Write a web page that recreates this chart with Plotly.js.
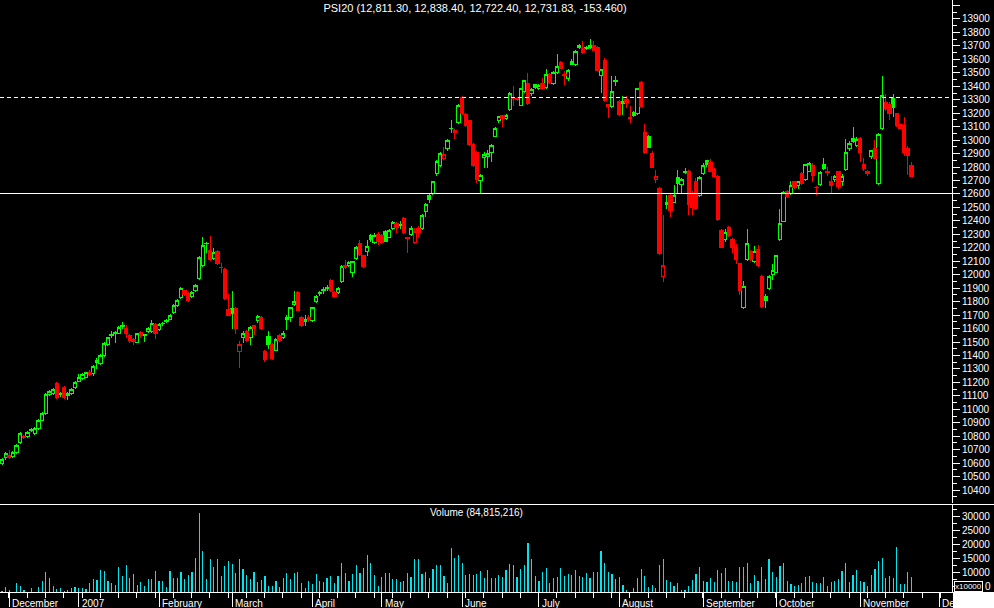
<!DOCTYPE html>
<html>
<head>
<meta charset="utf-8">
<script src="https://cdn.plot.ly/plotly-3.0.1.min.js"></script>
<style>
html,body{margin:0;padding:0;background:#000;}
#chart{width:994px;height:608px;}
#chart path{shape-rendering:crispEdges;}
</style>
</head>
<body>
<div id="chart"></div>
<script>
// ---- data (trading-day index order, late Nov 2006 .. Nov 2007) ----
var openP = [
10600,10640,10660,10650,10680,10750,10800,10800,10840,10820,
10860,10920,10970,11110,11120,11190,11110,11160,11100,11120,
11160,11210,11230,11240,11275,11265,11345,11340,11400,11480,
11545,11560,11565,11615,11600,11550,11520,11500,11570,11545,
11580,11580,11630,11590,11635,11650,11670,11720,11770,11830,
11880,11860,11840,11880,11975,12070,12230,12180,12120,12170,
12055,12040,11740,11750,11750,11430,11530,11580,11530,11620,
11660,11680,11430,11540,11480,11440,11545,11530,11670,11680,
11780,11870,11680,11650,11680,11660,11800,11860,11885,11895,
11960,11870,11870,11950,12070,12070,12020,12120,12230,12140,
12170,12290,12240,12300,12290,12320,12280,12340,12380,12365,
12420,12275,12300,12240,12340,12340,12470,12585,12600,12755,
12810,12860,12935,13085,13070,13130,13320,13190,13145,12970,
12910,12700,12870,12880,12905,13030,13145,13185,13160,13230,
13320,13310,13260,13360,13420,13345,13410,13380,13420,13390,
13485,13420,13500,13580,13485,13455,13585,13565,13690,13680,
13690,13690,13700,13690,13480,13590,13265,13250,13435,13290,
13270,13300,13170,13205,13200,13430,13060,13030,12900,12710,
12640,11990,12540,12585,12540,12725,12670,12770,12770,12600,
12690,12590,12755,12845,12835,12780,12730,12330,12265,12350,
12265,12200,12085,11760,12115,12170,12100,12185,11990,11835,
11900,12000,12020,12260,12395,12615,12600,12690,12665,12755,
12710,12770,12810,12650,12670,12820,12770,12690,12710,12765,
12690,12785,12935,13010,12960,13010,12820,12770,12875,12940,
12680,13085,13280,13265,13310,13195,13115,13105,12935,12811.30];
var highP = [
10640,10680,10700,10690,10740,10830,10810,10840,10860,10870,
10930,10980,11120,11140,11160,11205,11130,11170,11130,11160,
11210,11260,11270,11280,11290,11330,11380,11410,11500,11540,
11580,11580,11620,11650,11630,11560,11530,11570,11580,11560,
11610,11660,11640,11640,11650,11670,11710,11780,11820,11910,
11890,11870,11880,11930,12140,12280,12240,12290,12200,12180,
12090,12050,11860,11880,11760,11510,11580,11590,11620,11630,
11700,11690,11440,11580,11490,11530,11560,11580,11700,11760,
11880,11880,11690,11700,11700,11760,11850,11880,11910,11920,
11970,11880,11910,12070,12110,12100,12100,12210,12260,12150,
12260,12300,12310,12320,12300,12330,12340,12400,12390,12400,
12430,12280,12360,12350,12360,12450,12530,12610,12700,12850,
12910,12950,13010,13150,13080,13270,13330,13200,13150,12980,
12920,12750,12910,12930,12970,13100,13180,13190,13195,13360,
13400,13320,13390,13450,13500,13390,13420,13415,13460,13530,
13495,13510,13640,13590,13510,13525,13600,13670,13715,13740,
13700,13750,13740,13700,13530,13610,13270,13480,13480,13300,
13330,13330,13250,13220,13390,13440,13120,13040,12920,12780,
12650,12440,12590,12600,12665,12780,12720,12790,12780,12620,
12720,12730,12830,12850,12860,12790,12740,12340,12340,12360,
12275,12230,12090,11950,12340,12180,12210,12220,12000,11860,
12000,12080,12150,12490,12620,12630,12700,12700,12700,12760,
12820,12835,12830,12660,12770,12870,12800,12730,12740,12770,
12750,13010,12990,13100,13020,13020,12870,12780,12930,13000,
13050,13480,13340,13280,13340,13200,13120,13170,12960,12838.40];
var lowP = [
10590,10620,10630,10640,10670,10740,10780,10790,10830,10810,
10850,10910,10960,11100,11110,11080,11095,11080,11070,11110,
11150,11200,11220,11230,11250,11250,11300,11330,11390,11470,
11530,11490,11560,11600,11530,11490,11480,11490,11530,11500,
11570,11570,11520,11580,11620,11640,11660,11710,11760,11820,
11840,11800,11830,11870,11960,12060,12160,12100,12110,12070,
12010,11810,11690,11600,11560,11310,11490,11500,11480,11550,
11640,11590,11350,11450,11370,11430,11500,11520,11590,11650,
11770,11730,11610,11620,11650,11650,11790,11840,11860,11880,
11870,11830,11860,11940,12040,12060,11980,12110,12140,12050,
12140,12240,12230,12220,12230,12240,12270,12330,12310,12340,
12300,12160,12290,12230,12280,12330,12430,12530,12590,12730,
12800,12850,12920,13050,13010,13120,13190,13100,12960,12800,
12680,12610,12790,12790,12840,13020,13130,13100,13150,13220,
13250,13290,13250,13350,13260,13330,13380,13370,13370,13380,
13420,13410,13490,13530,13410,13440,13560,13550,13680,13640,
13670,13680,13660,13510,13350,13280,13165,13240,13400,13180,
13190,13240,13130,13170,13190,13240,12900,12940,12790,12680,
12150,11945,12490,12430,12530,12600,12610,12750,12440,12440,
12480,12580,12740,12800,12760,12720,12400,12200,12240,12280,
12160,12080,11850,11745,12100,12100,12090,12060,11750,11750,
11890,11960,12010,12250,12390,12570,12590,12640,12640,12670,
12700,12760,12690,12590,12660,12780,12730,12600,12690,12640,
12660,12770,12920,12980,12950,12840,12770,12730,12860,12860,
12670,13075,13220,13150,13170,13100,13080,12880,12740,12722.40];
var closeP = [
10625,10670,10645,10680,10730,10820,10790,10830,10850,10860,
10920,10970,11110,11130,11150,11090,11115,11090,11120,11150,
11200,11240,11260,11270,11260,11320,11360,11400,11490,11530,
11555,11570,11610,11620,11565,11510,11505,11560,11545,11555,
11600,11640,11565,11630,11640,11660,11700,11770,11810,11900,
11850,11810,11870,11920,12130,12220,12235,12115,12165,12080,
12050,11820,11700,11710,11600,11480,11565,11510,11610,11600,
11690,11600,11370,11480,11380,11520,11515,11565,11680,11755,
11800,11735,11620,11670,11665,11755,11840,11870,11890,11905,
11885,11840,11900,12060,12050,12090,12095,12200,12150,12060,
12210,12265,12295,12250,12240,12250,12330,12385,12350,12370,
12310,12270,12345,12320,12315,12440,12520,12560,12690,12840,
12900,12890,13000,13090,13060,13260,13200,13105,12970,12815,
12710,12740,12895,12900,12960,13090,13175,13160,13185,13350,
13310,13300,13380,13440,13270,13375,13390,13405,13380,13490,
13430,13500,13545,13535,13480,13515,13565,13660,13705,13650,
13680,13700,13665,13520,13525,13295,13250,13360,13440,13190,
13285,13280,13160,13180,13385,13250,12910,12945,12800,12730,
12160,12070,12525,12480,12590,12680,12710,12760,12520,12500,
12495,12720,12815,12820,12765,12730,12410,12205,12310,12290,
12205,12115,11880,11910,12235,12110,12170,12070,11765,11805,
11985,12035,12140,12380,12610,12580,12665,12650,12690,12680,
12820,12830,12735,12645,12760,12790,12760,12660,12730,12655,
12730,12905,12975,12990,13005,12910,12790,12750,12920,12865,
13045,13330,13235,13200,13245,13110,13090,12905,12885,12731.83];
// volume in units of 10,000
var volume = [
3600,4800,3870,3000,6340,5280,3870,3000,4580,3000,
4930,7040,10200,8100,5280,4340,4580,3600,3870,4580,
4930,4580,4580,4220,6340,7740,7390,10900,10560,7040,
6340,5630,11970,8800,12670,8100,9500,5630,6690,5280,
7740,7740,10560,7040,7040,4930,10560,8100,8100,10200,
7740,9150,10200,15140,31330,17950,7740,14780,11970,14780,
8800,12320,14080,13020,9850,14780,11260,9150,7740,10200,
6690,7390,8800,5280,5280,7040,4930,8100,9850,7740,
9850,10200,6340,4580,7040,5980,9500,7040,6690,8100,
8800,6340,8800,13380,9850,7040,9500,12670,9850,11620,
16190,13380,9150,5280,8450,9850,9850,7740,7740,6690,
7040,9850,8450,14780,14780,9500,10200,8100,11260,12670,
12670,8800,6340,19000,15140,16190,13380,9150,9500,9150,
9500,10560,8100,10900,8100,8100,9150,8450,10900,13020,
12670,8450,11260,12670,20770,14780,8800,7040,10200,11620,
6340,8100,8450,11620,8800,9500,9150,10900,8800,8450,
9850,8100,10200,10200,17600,13380,10200,9500,7740,8450,
5630,3870,3000,4580,8100,11260,8800,4930,5630,4580,
12670,14780,7390,6690,5280,6340,3870,3870,5280,7390,
9500,11970,7040,6690,8100,6690,10900,9850,11620,7040,
7040,6690,11970,11970,13380,6340,9150,7040,11970,7740,
14780,10200,8450,12320,13380,7040,5980,5280,5630,6340,
8450,8800,6690,6340,6340,8450,5280,6690,7040,7740,
10560,13380,6690,9150,10900,7040,6690,5280,9150,11260,
14080,15140,8100,8800,8100,19360,5980,5980,10200,8481.5];

var monthTickPos = [2, 21, 43, 63, 85, 104, 126, 147, 169, 192, 212, 235, 256.6];
var monthLabels = ['December','2007','February','March','April','May','June','July','August','September','October','November','De'];
var priceTicks = [10300,10400,10500,10600,10700,10800,10900,11000,11100,11200,11300,11400,11500,11600,11700,11800,11900,12000,12100,12200,12300,12400,12500,12600,12700,12800,12900,13000,13100,13200,13300,13400,13500,13600,13700,13800,13900,14000];
var priceTickText = ['','10400','10500','10600','10700','10800','10900','11000','11100','11200','11300','11400','11500','11600','11700','11800','11900','12000','12100','12200','12300','12400','12500','12600','12700','12800','12900','13000','13100','13200','13300','13400','13500','13600','13700','13800','13900',''];
var volTicks = [5000,10000,15000,20000,25000,30000];
// the 5000 label is hidden behind the "x10000" unit box; only its last "0" peeks out
var volTickText = ['','10000','15000','20000','25000','30000'];
var volUnitText = 'x10000';
var volHiddenTail = '0';
var resistanceLevel = 13319;
var supportLevel = 12600;
var titleText = 'PSI20 (12,811.30, 12,838.40, 12,722.40, 12,731.83, -153.460)';
var volumeTitle = 'Volume (84,815,216)';

// ---- build traces ----
var GREEN = '#00ff00', RED = '#ff0000', CYAN = '#00e6ee';
var idx = [];
for (var i = 0; i < closeP.length; i++) idx.push(i);

var g = {x:[],o:[],h:[],l:[],c:[]}, r = {x:[],o:[],h:[],l:[],c:[]};
for (var i = 0; i < closeP.length; i++) {
  var up = (i === 0) || closeP[i] >= closeP[i-1];
  var t = up ? g : r;
  t.x.push(i); t.o.push(openP[i]); t.h.push(highP[i]); t.l.push(lowP[i]); t.c.push(closeP[i]);
}
function candle(d, col) {
  return {
    type:'candlestick', x:d.x, open:d.o, high:d.h, low:d.l, close:d.c,
    xaxis:'x', yaxis:'y', hoverinfo:'skip', showlegend:false, whiskerwidth:0,
    increasing:{line:{color:col,width:1}, fillcolor:'#000000'},
    decreasing:{line:{color:col,width:1}, fillcolor:col}
  };
}
var traces = [
  candle(g, GREEN), candle(r, RED),
  {type:'bar', x:idx, y:volume, xaxis:'x', yaxis:'y2', width:0.32,
   marker:{color:CYAN, line:{width:0}}, hoverinfo:'skip', showlegend:false}
];

var PH = 592; // plot height px
var FONT = 'Liberation Sans, Arial, sans-serif';
var annotations = [];
for (var k = 0; k < monthTickPos.length; k++) {
  annotations.push({xref:'x', yref:'paper', x:monthTickPos[k], y:(PH-603)/PH,
    text:monthLabels[k], showarrow:false, xanchor:'left', yanchor:'middle', xshift:1,
    font:{family:FONT, size:10, color:'#ffffff'}});
}
annotations.push({xref:'paper', yref:'paper', x:0.5, y:(PH-512.5)/PH, text:volumeTitle,
  showarrow:false, xanchor:'center', yanchor:'middle', font:{family:FONT, size:10, color:'#ffffff'}});
annotations.push({xref:'paper', yref:'paper', x:954/952, y:(PH-586.5)/PH, text:volUnitText,
  showarrow:false, xanchor:'left', yanchor:'middle', bgcolor:'#000000', bordercolor:'#ffffff',
  borderwidth:1, borderpad:0, font:{family:FONT, size:8, color:'#ffffff'}});
annotations.push({xref:'paper', yref:'paper', x:983/952, y:(PH-586.5)/PH, text:volHiddenTail,
  showarrow:false, xanchor:'left', yanchor:'middle', font:{family:FONT, size:10, color:'#ffffff'}});

var layout = {
  width:994, height:608,
  margin:{l:0, r:42, t:0, b:16, pad:0},
  paper_bgcolor:'#000000', plot_bgcolor:'#000000',
  showlegend:false, hovermode:false,
  boxgap:0.05, boxgroupgap:0.05,
  bargap:0,
  title:{text:titleText, x:475/994, xanchor:'center', y:1-8/608, yanchor:'middle',
         font:{family:FONT, size:11, color:'#ffffff'}},
  xaxis:{
    range:[-0.55, 260.1], anchor:'y2', showgrid:false, zeroline:false,
    rangeslider:{visible:false},
    tickmode:'array', tickvals:monthTickPos, ticktext:monthTickPos.map(function(){return '';}),
    ticks:'outside', ticklen:14, tickwidth:1, tickcolor:'#ffffff',
    showline:true, linecolor:'#ffffff', linewidth:1,
    minor:{tickmode:'linear', tick0:1.9, dtick:5, ticks:'outside', ticklen:5, tickcolor:'#ffffff', tickwidth:1, showgrid:false},
    fixedrange:true
  },
  yaxis:{
    domain:[(PH-503)/PH, 1], range:[10304, 14041], side:'right', anchor:'x',
    showgrid:false, zeroline:false, showline:true, linecolor:'#ffffff', linewidth:1,
    tickmode:'array', tickvals:priceTicks, ticktext:priceTickText,
    ticks:'outside', ticklen:7, tickwidth:1, tickcolor:'#ffffff',
    tickfont:{family:FONT, size:10, color:'#ffffff'},
    minor:{tickmode:'linear', tick0:0, dtick:50, ticks:'outside', ticklen:4, tickcolor:'#ffffff', tickwidth:1, showgrid:false},
    fixedrange:true
  },
  yaxis2:{
    domain:[0, (PH-505)/PH], range:[3170, 34155], side:'right', anchor:'x',
    showgrid:false, zeroline:false, showline:true, linecolor:'#ffffff', linewidth:1,
    tickmode:'array', tickvals:volTicks, ticktext:volTickText,
    ticks:'outside', ticklen:7, tickwidth:1, tickcolor:'#ffffff',
    tickfont:{family:FONT, size:10, color:'#ffffff'},
    minor:{tickmode:'linear', tick0:0, dtick:2500, ticks:'outside', ticklen:4, tickcolor:'#ffffff', tickwidth:1, showgrid:false},
    fixedrange:true
  },
  shapes:[
    {type:'line', xref:'paper', yref:'y', x0:0, x1:1, y0:resistanceLevel, y1:resistanceLevel,
     line:{color:'#ffffff', width:1, dash:'4px,3px'}},
    {type:'line', xref:'paper', yref:'y', x0:0, x1:1, y0:supportLevel, y1:supportLevel,
     line:{color:'#ffffff', width:1}},
    {type:'line', xref:'paper', yref:'paper', x0:0, x1:994/952, y0:(PH-504)/PH, y1:(PH-504)/PH,
     line:{color:'#ffffff', width:1}},
    {type:'rect', xref:'paper', yref:'paper', x0:953/952, x1:1.05, y0:-0.03, y1:0,
     fillcolor:'#ffffff', line:{width:0}, layer:'above'}
  ],
  annotations:annotations
};

Plotly.newPlot('chart', traces, layout, {displayModeBar:false, staticPlot:true});
</script>
</body>
</html>
